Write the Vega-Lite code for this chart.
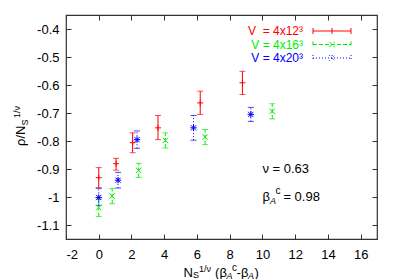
{
  "$schema": "https://vega.github.io/schema/vega-lite/v6.json",
  "width": 311,
  "height": 224,
  "autosize": {"type": "none"},
  "padding": {"left": 66, "top": 15, "right": 22, "bottom": 40},
  "background": "white",
  "config": {
    "view": {"stroke": "#333333", "strokeWidth": 1.2},
    "font": "Liberation Sans"
  },
  "data": {"values": [
    {"V": "4x12", "x": 0, "y": -0.931, "lo": -0.967, "hi": -0.895},
    {"V": "4x12", "x": 1.06, "y": -0.881, "lo": -0.904, "hi": -0.862},
    {"V": "4x12", "x": 2.07, "y": -0.806, "lo": -0.842, "hi": -0.771},
    {"V": "4x12", "x": 3.62, "y": -0.753, "lo": -0.795, "hi": -0.709},
    {"V": "4x12", "x": 6.2, "y": -0.664, "lo": -0.705, "hi": -0.622},
    {"V": "4x12", "x": 8.78, "y": -0.592, "lo": -0.634, "hi": -0.551},
    {"V": "4x16", "x": 0, "y": -1.038, "lo": -1.07, "hi": -1.008},
    {"V": "4x16", "x": 0.82, "y": -0.997, "lo": -1.024, "hi": -0.97},
    {"V": "4x16", "x": 2.44, "y": -0.905, "lo": -0.93, "hi": -0.88},
    {"V": "4x16", "x": 4.07, "y": -0.798, "lo": -0.825, "hi": -0.771},
    {"V": "4x16", "x": 6.5, "y": -0.786, "lo": -0.813, "hi": -0.759},
    {"V": "4x16", "x": 10.6, "y": -0.694, "lo": -0.721, "hi": -0.667},
    {"V": "4x20", "x": 0, "y": -1.002, "lo": -1.03, "hi": -0.969},
    {"V": "4x20", "x": 1.18, "y": -0.94, "lo": -0.968, "hi": -0.912},
    {"V": "4x20", "x": 2.34, "y": -0.795, "lo": -0.826, "hi": -0.764},
    {"V": "4x20", "x": 5.79, "y": -0.753, "lo": -0.797, "hi": -0.709},
    {"V": "4x20", "x": 9.29, "y": -0.705, "lo": -0.73, "hi": -0.68}
  ]},
  "resolve": {"axis": {"x": "independent", "y": "independent"}},
  "layer": [
    {
      "transform": [{"filter": "datum.V == '4x12'"}],
      "mark": {"type": "errorbar", "color": "#ff0000", "thickness": 1,
               "ticks": {"size": 6, "color": "#ff0000"}, "rule": {"color": "#ff0000", "strokeWidth": 1}},
      "encoding": {
        "x": {"field": "x", "type": "quantitative", "scale": {"domain": [-2, 17], "nice": false, "zero": false},
              "axis": {"orient": "bottom", "values": [-2, 0, 2, 4, 6, 8, 10, 12, 14, 16], "labelExpr": "'' + datum.value",
                       "tickSize": -5, "labelPadding": 14, "domain": false, "grid": false, "title": null,
                       "labelFont": "Liberation Sans", "labelFontSize": 13, "labelColor": "#000000", "tickColor": "#333333"}},
        "y": {"field": "lo", "type": "quantitative", "scale": {"domain": [-1.15, -0.35], "nice": false, "zero": false},
              "axis": {"orient": "left", "values": [-1.1, -1, -0.9, -0.8, -0.7, -0.6, -0.5, -0.4], "labelExpr": "'' + datum.value",
                       "tickSize": -5, "labelPadding": 12, "domain": false, "grid": false, "title": null,
                       "labelFont": "Liberation Sans", "labelFontSize": 13, "labelColor": "#000000", "tickColor": "#333333"}},
        "y2": {"field": "hi"}
      }
    },
    {
      "transform": [{"filter": "datum.V == '4x16'"}],
      "mark": {"type": "errorbar", "color": "#00ee00", "thickness": 1,
               "ticks": {"size": 6, "color": "#00ee00"}, "rule": {"color": "#00ee00", "strokeWidth": 1, "strokeDash": [4, 2]}},
      "encoding": {
        "x": {"field": "x", "type": "quantitative", "scale": {"domain": [-2, 17], "nice": false, "zero": false}, "axis": null},
        "y": {"field": "lo", "type": "quantitative", "scale": {"domain": [-1.15, -0.35], "nice": false, "zero": false}, "axis": null},
        "y2": {"field": "hi"}
      }
    },
    {
      "transform": [{"filter": "datum.V == '4x20'"}],
      "mark": {"type": "errorbar", "color": "#0000ff", "thickness": 1,
               "ticks": {"size": 6, "color": "#0000ff", "strokeDash": [1, 2]}, "rule": {"color": "#0000ff", "strokeWidth": 1, "strokeDash": [1, 2]}},
      "encoding": {
        "x": {"field": "x", "type": "quantitative", "scale": {"domain": [-2, 17], "nice": false, "zero": false}, "axis": null},
        "y": {"field": "lo", "type": "quantitative", "scale": {"domain": [-1.15, -0.35], "nice": false, "zero": false}, "axis": null},
        "y2": {"field": "hi"}
      }
    },
    {
      "transform": [{"filter": "datum.V == '4x12'"}],
      "mark": {"type": "point", "shape": "M-1,0L1,0M0,-1L0,1", "filled": false, "stroke": "#ff0000", "strokeWidth": 1, "size": 36, "opacity": 1},
      "encoding": {
        "x": {"field": "x", "type": "quantitative", "scale": {"domain": [-2, 17], "nice": false, "zero": false}, "axis": null},
        "y": {"field": "y", "type": "quantitative", "scale": {"domain": [-1.15, -0.35], "nice": false, "zero": false}, "axis": null}
      }
    },
    {
      "transform": [{"filter": "datum.V == '4x16'"}],
      "mark": {"type": "point", "shape": "M-1,-1L1,1M-1,1L1,-1", "filled": false, "stroke": "#00ee00", "strokeWidth": 1, "size": 30, "opacity": 1},
      "encoding": {
        "x": {"field": "x", "type": "quantitative", "scale": {"domain": [-2, 17], "nice": false, "zero": false}, "axis": null},
        "y": {"field": "y", "type": "quantitative", "scale": {"domain": [-1.15, -0.35], "nice": false, "zero": false}, "axis": null}
      }
    },
    {
      "transform": [{"filter": "datum.V == '4x20'"}],
      "mark": {"type": "point", "shape": "M-1,0L1,0M0,-1L0,1M-0.8,-0.8L0.8,0.8M-0.8,0.8L0.8,-0.8", "filled": false, "stroke": "#0000ff", "strokeWidth": 1, "size": 42, "opacity": 1},
      "encoding": {
        "x": {"field": "x", "type": "quantitative", "scale": {"domain": [-2, 17], "nice": false, "zero": false}, "axis": null},
        "y": {"field": "y", "type": "quantitative", "scale": {"domain": [-1.15, -0.35], "nice": false, "zero": false}, "axis": null}
      }
    },
    {
      "transform": [{"filter": "datum.x > 100"}],
      "mark": {"type": "point", "filled": false, "strokeWidth": 1, "size": 121, "opacity": 1},
      "encoding": {
        "x": {"field": "x", "type": "quantitative", "scale": {"domain": [-2, 17], "nice": false, "zero": false},
              "axis": {"orient": "top", "values": [-2, 0, 2, 4, 6, 8, 10, 12, 14, 16], "labels": false,
                       "tickSize": -5, "domain": false, "grid": false, "title": null, "tickColor": "#333333"}},
        "y": {"field": "y", "type": "quantitative", "scale": {"domain": [-1.15, -0.35], "nice": false, "zero": false},
              "axis": {"orient": "right", "values": [-1.1, -1, -0.9, -0.8, -0.7, -0.6, -0.5, -0.4], "labels": false,
                       "tickSize": -5, "domain": false, "grid": false, "title": null, "tickColor": "#333333"}},
        "color": {"field": "V", "type": "nominal",
                  "scale": {"domain": ["4x12", "4x16", "4x20"], "range": ["#ff0000", "#00ee00", "#0000ff"]},
                  "legend": {"orient": "none", "legendX": 260, "legendY": 10, "title": null,
                             "symbolSize": 121, "symbolStrokeWidth": 1, "symbolFillColor": "transparent",
                             "labelFont": "Liberation Sans", "labelFontSize": 12, "labelAlign": "right", "labelOffset": -35,
                             "labelLimit": 300, "rowPadding": 1.5,
                             "labelColor": {"expr": "datum.value == '4x12' ? '#ff0000' : datum.value == '4x16' ? '#00ee00' : '#0000ff'"},
                             "labelExpr": "datum.value == '4x12' ? 'V\u00a0 = 4x12³' : 'V = ' + datum.value + '³'"}},
        "shape": {"field": "V", "type": "nominal",
                  "scale": {"domain": ["4x12", "4x16", "4x20"], "range": [
                    "M-3.45,0L3.45,0M-3.45,-0.55L-3.45,0.55M3.45,-0.55L3.45,0.55M0,-0.55L0,0.55",
                    "M-3.45,0L3.45,0M-3.45,-0.55L-3.45,0.55M3.45,-0.55L3.45,0.55M-0.5,-0.5L0.5,0.5M-0.5,0.5L0.5,-0.5",
                    "M-3.45,0L3.45,0M-3.45,-0.55L-3.45,0.55M3.45,-0.55L3.45,0.55M-0.5,-0.5L0.5,0.5M-0.5,0.5L0.5,-0.5M0,-0.55L0,0.55"]}},
        "strokeDash": {"field": "V", "type": "nominal",
                  "scale": {"domain": ["4x12", "4x16", "4x20"], "range": [[1, 0], [4, 2], [1, 2]]}}
      }
    },
    {
      "data": {"values": [{}]},
      "encoding": {
        "x": {"datum": 10, "type": "quantitative", "scale": {"domain": [-2, 17], "nice": false, "zero": false}, "axis": null},
        "y": {"datum": -0.9, "type": "quantitative", "scale": {"domain": [-1.15, -0.35], "nice": false, "zero": false}, "axis": null}
      },
      "layer": [
        {"mark": {"type": "text", "align": "left", "baseline": "middle", "fontSize": 13, "font": "Liberation Sans", "color": "#000000"},
         "encoding": {"text": {"value": "ν = 0.63"}}}
      ]
    },
    {
      "data": {"values": [{}]},
      "encoding": {
        "x": {"datum": 10, "type": "quantitative", "scale": {"domain": [-2, 17], "nice": false, "zero": false}, "axis": null},
        "y": {"datum": -1.0, "type": "quantitative", "scale": {"domain": [-1.15, -0.35], "nice": false, "zero": false}, "axis": null}
      },
      "layer": [
        {"mark": {"type": "text", "align": "left", "baseline": "middle", "fontSize": 13, "font": "Liberation Sans", "color": "#000000"},
         "encoding": {"text": {"value": "β"}}},
        {"mark": {"type": "text", "align": "left", "baseline": "middle", "fontSize": 9, "fontStyle": "italic", "font": "Liberation Sans", "color": "#000000", "dx": 7.5, "dy": 4},
         "encoding": {"text": {"value": "A"}}},
        {"mark": {"type": "text", "align": "left", "baseline": "middle", "fontSize": 10, "font": "Liberation Sans", "color": "#000000", "dx": 13, "dy": -6},
         "encoding": {"text": {"value": "c"}}},
        {"mark": {"type": "text", "align": "left", "baseline": "middle", "fontSize": 13, "font": "Liberation Sans", "color": "#000000", "dx": 21},
         "encoding": {"text": {"value": "= 0.98"}}}
      ]
    },
    {
      "data": {"values": [{}]},
      "encoding": {
        "x": {"datum": 5, "type": "quantitative", "scale": {"domain": [-2, 17], "nice": false, "zero": false}, "axis": null},
        "y": {"datum": -1.15, "type": "quantitative", "scale": {"domain": [-1.15, -0.35], "nice": false, "zero": false}, "axis": null}
      },
      "layer": [
        {"mark": {"type": "text", "align": "left", "baseline": "alphabetic", "fontSize": 13, "font": "Liberation Sans", "color": "#000000", "dx": 3, "dy": 37.5},
         "encoding": {"text": {"value": "N"}}},
        {"mark": {"type": "text", "align": "left", "baseline": "alphabetic", "fontSize": 9, "font": "Liberation Sans", "color": "#000000", "dx": 12.5, "dy": 39},
         "encoding": {"text": {"value": "S"}}},
        {"mark": {"type": "text", "align": "left", "baseline": "alphabetic", "fontSize": 9, "font": "Liberation Sans", "color": "#000000", "dx": 18.5, "dy": 33},
         "encoding": {"text": {"value": "1/ν"}}},
        {"mark": {"type": "text", "align": "left", "baseline": "alphabetic", "fontSize": 13, "font": "Liberation Sans", "color": "#000000", "dx": 34.5, "dy": 37.5},
         "encoding": {"text": {"value": "(β"}}},
        {"mark": {"type": "text", "align": "left", "baseline": "alphabetic", "fontSize": 9, "fontStyle": "italic", "font": "Liberation Sans", "color": "#000000", "dx": 46, "dy": 39.5},
         "encoding": {"text": {"value": "A"}}},
        {"mark": {"type": "text", "align": "left", "baseline": "alphabetic", "fontSize": 10, "font": "Liberation Sans", "color": "#000000", "dx": 51.5, "dy": 32},
         "encoding": {"text": {"value": "c"}}},
        {"mark": {"type": "text", "align": "left", "baseline": "alphabetic", "fontSize": 13, "font": "Liberation Sans", "color": "#000000", "dx": 56, "dy": 37.5},
         "encoding": {"text": {"value": "-β"}}},
        {"mark": {"type": "text", "align": "left", "baseline": "alphabetic", "fontSize": 9, "fontStyle": "italic", "font": "Liberation Sans", "color": "#000000", "dx": 67.5, "dy": 39.5},
         "encoding": {"text": {"value": "A"}}},
        {"mark": {"type": "text", "align": "left", "baseline": "alphabetic", "fontSize": 13, "font": "Liberation Sans", "color": "#000000", "dx": 74, "dy": 37.5},
         "encoding": {"text": {"value": ")"}}}
      ]
    },
    {
      "data": {"values": [{}]},
      "encoding": {
        "x": {"datum": -2, "type": "quantitative", "scale": {"domain": [-2, 17], "nice": false, "zero": false}, "axis": null},
        "y": {"datum": -1.15, "type": "quantitative", "scale": {"domain": [-1.15, -0.35], "nice": false, "zero": false}, "axis": null}
      },
      "layer": [
        {"mark": {"type": "text", "align": "left", "baseline": "alphabetic", "angle": 270, "fontSize": 13, "font": "Liberation Sans", "color": "#000000", "dx": 93, "dy": -41},
         "encoding": {"text": {"value": "ρ/N"}}},
        {"mark": {"type": "text", "align": "left", "baseline": "alphabetic", "angle": 270, "fontSize": 9, "font": "Liberation Sans", "color": "#000000", "dx": 113.5, "dy": -38.5},
         "encoding": {"text": {"value": "S"}}},
        {"mark": {"type": "text", "align": "left", "baseline": "alphabetic", "angle": 270, "fontSize": 9, "font": "Liberation Sans", "color": "#000000", "dx": 121, "dy": -46},
         "encoding": {"text": {"value": "1/ν"}}}
      ]
    }
  ]
}
